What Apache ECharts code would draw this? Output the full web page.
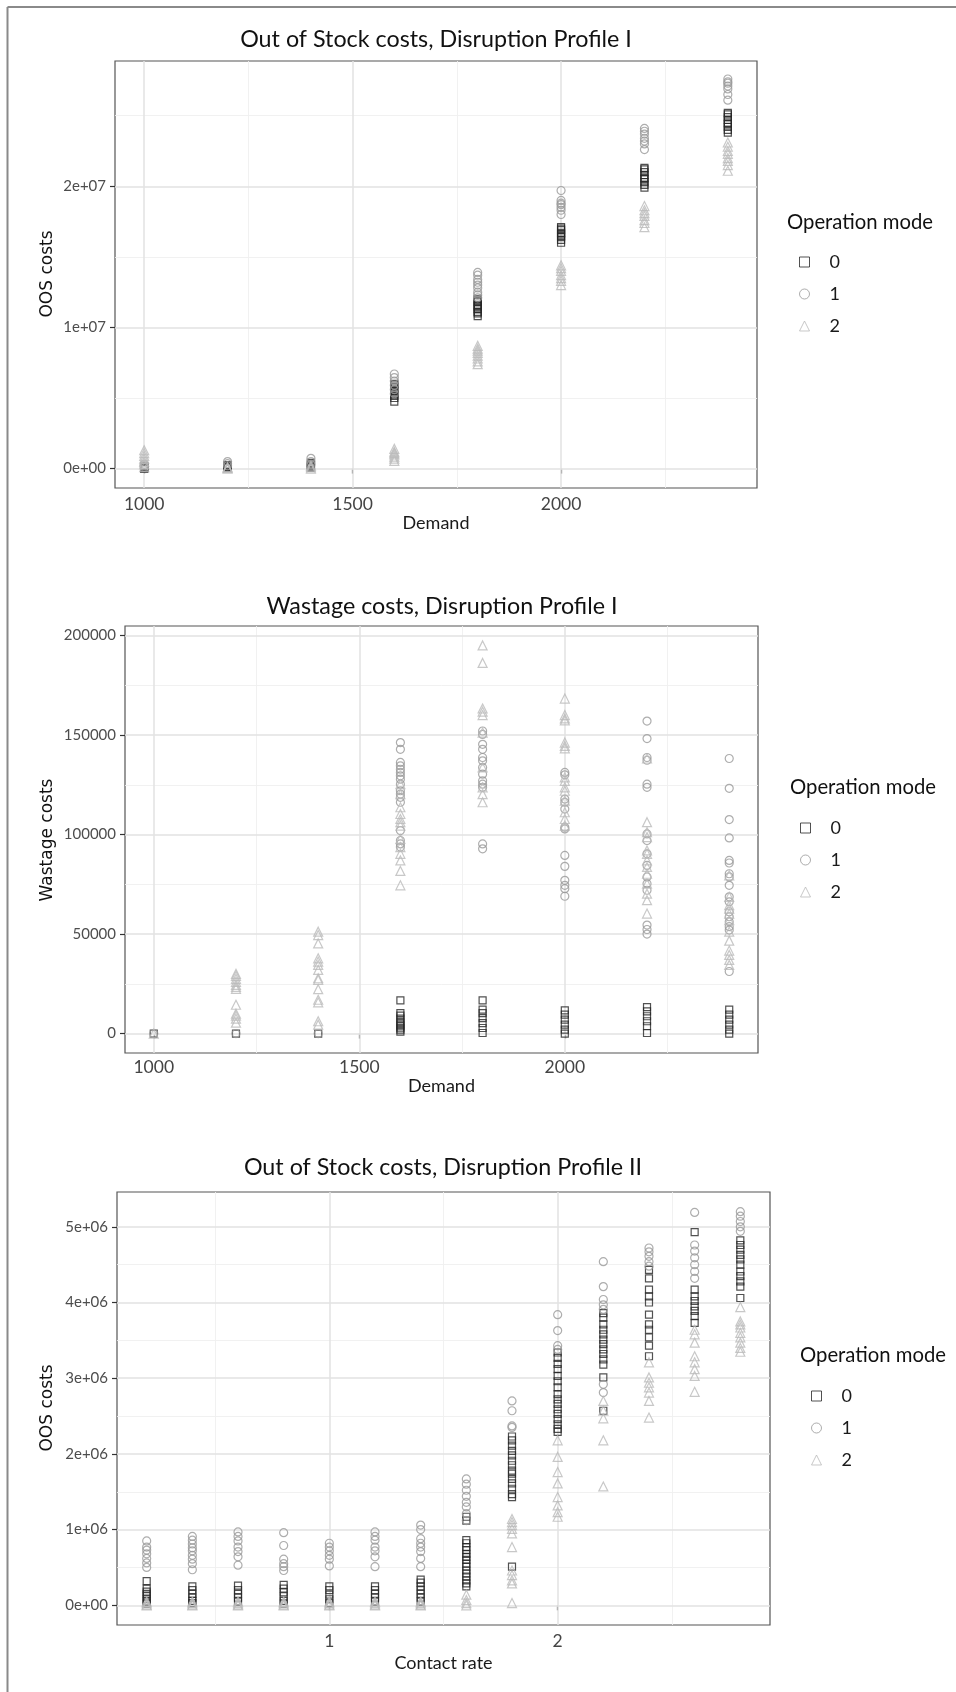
<!DOCTYPE html>
<html>
<head>
<meta charset="utf-8">
<script src="https://cdn.jsdelivr.net/npm/echarts@6/dist/echarts.min.js"></script>
<style>
  html, body { margin: 0; padding: 0; background: #fff; }
  #chart { width: 956px; height: 1692px; }
</style>
</head>
<body>
<div id="chart"></div>
<script>
// ---------- Categories ----------
const demand = [1000, 1200, 1400, 1600, 1800, 2000, 2200, 2400];
const contactRate = [0.2, 0.4, 0.6, 0.8, 1.0, 1.2, 1.4, 1.6, 1.8, 2.0, 2.2, 2.4, 2.6, 2.8];
const modeNames = ['0', '1', '2'];

// ---------- Out of Stock costs, Disruption Profile I (one list per demand level) ----------
const oosP1Mode0 = [
  [0, 2e4, 4e4, 6e4, 8e4, 1.2e5, 1.8e5],
  [5e4, 1.0e5, 1.5e5, 2.0e5, 2.5e5],
  [5e4, 1.0e5, 2.0e5, 3.0e5, 4.0e5],
  [6.0e6, 5.9e6, 5.75e6, 5.6e6, 5.5e6, 5.4e6, 5.3e6, 5.15e6, 5.0e6, 4.75e6],
  [1.2e7, 1.19e7, 1.18e7, 1.16e7, 1.15e7, 1.14e7, 1.13e7, 1.11e7, 1.1e7, 1.08e7],
  [1.71e7, 1.7e7, 1.69e7, 1.67e7, 1.66e7, 1.65e7, 1.64e7, 1.62e7, 1.6e7],
  [2.13e7, 2.12e7, 2.1e7, 2.08e7, 2.06e7, 2.05e7, 2.03e7, 2.01e7, 1.99e7],
  [2.52e7, 2.51e7, 2.49e7, 2.47e7, 2.45e7, 2.44e7, 2.42e7, 2.4e7, 2.38e7]
];
const oosP1Mode1 = [
  [1.0e5, 2.0e5, 3.0e5],
  [2.0e5, 3.5e5, 5.0e5],
  [3.0e5, 5.0e5, 7.3e5],
  [6.7e6, 6.45e6, 6.2e6, 5.9e6, 5.6e6, 5.3e6],
  [1.39e7, 1.37e7, 1.34e7, 1.32e7, 1.3e7, 1.28e7, 1.25e7, 1.23e7, 1.21e7],
  [1.97e7, 1.9e7, 1.88e7, 1.87e7, 1.85e7, 1.83e7, 1.8e7],
  [2.41e7, 2.39e7, 2.37e7, 2.34e7, 2.32e7, 2.3e7, 2.26e7],
  [2.76e7, 2.74e7, 2.73e7, 2.71e7, 2.69e7, 2.65e7, 2.61e7]
];
const oosP1Mode2 = [
  [1.3e6, 1.1e6, 9e5, 7e5, 5e5, 3e5, 1e5],
  [0, 5e4, 1e5],
  [0, 1e5, 2e5],
  [1.4e6, 1.2e6, 1.1e6, 1.0e6, 8.5e5, 7e5, 5.5e5],
  [8.7e6, 8.5e6, 8.35e6, 8.2e6, 8.0e6, 7.8e6, 7.6e6, 7.4e6],
  [1.44e7, 1.42e7, 1.4e7, 1.37e7, 1.35e7, 1.33e7, 1.3e7],
  [1.86e7, 1.83e7, 1.81e7, 1.79e7, 1.76e7, 1.74e7, 1.71e7],
  [2.31e7, 2.28e7, 2.25e7, 2.23e7, 2.2e7, 2.18e7, 2.15e7, 2.11e7]
];

// ---------- Wastage costs, Disruption Profile I ----------
const wasteMode0 = [
  [0], [0], [0],
  [16700, 10300, 9000, 7500, 6000, 5000, 4000, 3000, 2000, 1000],
  [16700, 12000, 10300, 7800, 5300, 2800, 300],
  [11700, 9500, 7000, 4500, 2000, 0],
  [13300, 11200, 8700, 6200, 3700, 300],
  [12000, 9500, 7000, 4500, 2000, 0]
];
const wasteMode1 = [
  [0], [0], [0],
  [146200, 142800, 136200, 134500, 132800, 131200, 129500, 127800, 125300, 122000, 120300, 118700, 116200, 102000, 97000, 95300, 93700],
  [152000, 150300, 145300, 142800, 138700, 137000, 133700, 130300, 127000, 125300, 123700, 95300, 92800],
  [131200, 130000, 117800, 116200, 112800, 103700, 102800, 89500, 84000, 77000, 74500, 72800, 69000],
  [157000, 148200, 138700, 137300, 125300, 123700, 100300, 97000, 90300, 84500, 78700, 75300, 72000, 54500, 52300, 50000],
  [138200, 123200, 107500, 98300, 87000, 85700, 80300, 78700, 74500, 68700, 66200, 61200, 58700, 56200, 53700, 52000, 31200]
];
const wasteMode2 = [
  [0],
  [30000, 29000, 27500, 26000, 24500, 23500, 22500, 14500, 10000, 9000, 7500, 5500],
  [51200, 49500, 45300, 37800, 36200, 34500, 32000, 27800, 27000, 22300, 17000, 15700, 6200, 4500],
  [125300, 120300, 113700, 110300, 107800, 106200, 104500, 97800, 93700, 90300, 87000, 81700, 74500],
  [195000, 186200, 163300, 161700, 160000, 151200, 133700, 123700, 120300, 116200],
  [168300, 160000, 158300, 157300, 146200, 144500, 143300, 128700, 127000, 123700, 122000, 117000, 111200, 107800, 104500],
  [138200, 106200, 101200, 98700, 92000, 90300, 87000, 83700, 80300, 75300, 70300, 67000, 60300],
  [79500, 68700, 64500, 62800, 60300, 57000, 51200, 46700, 41700, 39500, 37000, 34500]
];

// ---------- Out of Stock costs, Disruption Profile II (one list per contact rate) ----------
const oosP2Mode0 = [
  [3.2e5, 2.2e5, 1.8e5, 1.5e5, 1.2e5, 8e4, 5e4, 2e4],
  [2.5e5, 2.0e5, 1.5e5, 1.0e5, 6e4, 3e4],
  [2.6e5, 2.0e5, 1.5e5, 1.0e5, 5e4],
  [2.7e5, 2.2e5, 1.7e5, 1.2e5, 6e4, 2e4],
  [2.5e5, 2.0e5, 1.4e5, 8e4, 3e4],
  [2.5e5, 2.0e5, 1.5e5, 1.0e5, 5e4],
  [3.4e5, 3.0e5, 2.5e5, 2.0e5, 1.5e5, 1.0e5, 5e4],
  [1.17e6, 1.12e6, 8.6e5, 8.2e5, 7.7e5, 7.3e5, 6.8e5, 6.4e5, 6.0e5, 5.5e5, 5.1e5, 4.6e5, 4.2e5, 3.8e5, 3.3e5, 2.9e5, 2.5e5],
  [2.23e6, 2.18e6, 2.11e6, 2.04e6, 1.98e6, 1.91e6, 1.85e6, 1.78e6, 1.74e6, 1.67e6, 1.61e6, 1.54e6, 1.47e6, 1.43e6, 5.1e5],
  [3.34e6, 3.27e6, 3.19e6, 3.12e6, 3.03e6, 2.96e6, 2.88e6, 2.79e6, 2.72e6, 2.66e6, 2.59e6, 2.53e6, 2.46e6, 2.39e6, 2.33e6, 2.29e6],
  [3.86e6, 3.8e6, 3.71e6, 3.64e6, 3.58e6, 3.51e6, 3.45e6, 3.38e6, 3.32e6, 3.25e6, 3.18e6, 3.01e6, 2.57e6],
  [4.43e6, 4.32e6, 4.17e6, 4.08e6, 4.0e6, 3.84e6, 3.71e6, 3.64e6, 3.54e6, 3.43e6, 3.29e6],
  [4.93e6, 4.17e6, 4.08e6, 4.02e6, 3.95e6, 3.89e6, 3.82e6, 3.73e6],
  [4.82e6, 4.76e6, 4.7e6, 4.63e6, 4.57e6, 4.5e6, 4.41e6, 4.35e6, 4.28e6, 4.21e6, 4.06e6]
];
const oosP2Mode1 = [
  [8.5e5, 7.7e5, 7.3e5, 6.8e5, 6.2e5, 5.6e5, 5.0e5],
  [9.1e5, 8.6e5, 8.1e5, 7.6e5, 7.2e5, 6.6e5, 6.1e5, 5.5e5, 4.7e5],
  [9.7e5, 9.1e5, 8.5e5, 7.7e5, 7.1e5, 6.4e5, 5.3e5],
  [9.6e5, 7.9e5, 6.1e5, 5.5e5, 5.1e5, 4.6e5],
  [8.2e5, 7.7e5, 7.2e5, 6.6e5, 6.1e5, 5.2e5],
  [9.7e5, 9.1e5, 8.6e5, 7.7e5, 7.2e5, 6.4e5, 5.1e5],
  [1.06e6, 1.0e6, 8.8e5, 8.2e5, 7.7e5, 7.1e5, 6.2e5, 5.1e5],
  [1.67e6, 1.6e6, 1.52e6, 1.44e6, 1.36e6, 1.3e6, 1.21e6, 1.12e6],
  [2.7e6, 2.57e6, 2.37e6, 2.35e6],
  [3.84e6, 3.63e6, 3.43e6, 3.38e6],
  [4.54e6, 4.21e6, 4.04e6, 3.97e6, 3.91e6, 2.92e6, 2.81e6],
  [4.72e6, 4.67e6, 4.61e6, 4.54e6, 4.48e6],
  [5.19e6, 4.76e6, 4.68e6, 4.59e6, 4.5e6, 4.41e6, 4.32e6],
  [5.2e6, 5.14e6, 5.07e6, 5.0e6, 4.94e6]
];
const oosP2Mode2 = [
  [0, 1e4, 3e4, 5e4],
  [0, 1e4, 3e4, 5e4],
  [0, 1e4, 3e4, 5e4],
  [0, 1e4, 3e4, 5e4],
  [0, 1e4, 3e4, 5e4],
  [0, 1e4, 3e4, 5e4],
  [0, 1e4, 3e4, 5e4],
  [1.4e5, 7e4, 3e4, 0],
  [1.14e6, 1.1e6, 1.06e6, 1.01e6, 9.5e5, 7.7e5, 4.6e5, 4.0e5, 3.3e5, 2.9e5, 3e4],
  [2.18e6, 1.96e6, 1.76e6, 1.61e6, 1.43e6, 1.32e6, 1.23e6, 1.17e6],
  [2.7e6, 2.57e6, 2.47e6, 2.18e6, 1.57e6],
  [3.21e6, 3.01e6, 2.94e6, 2.88e6, 2.81e6, 2.7e6, 2.48e6],
  [3.64e6, 3.58e6, 3.47e6, 3.29e6, 3.21e6, 3.12e6, 3.03e6, 2.82e6],
  [3.94e6, 3.75e6, 3.71e6, 3.67e6, 3.6e6, 3.54e6, 3.47e6, 3.4e6, 3.35e6]
];

// ---------- Ticks and grid lines ----------
const demandTicks = [1000, 1500, 2000];
const demandMinor = [1250, 1750, 2250];
const oosP1Ticks = [0, 1e7, 2e7];
const oosP1TickLabels = ['0e+00', '1e+07', '2e+07'];
const oosP1Minor = [5e6, 1.5e7, 2.5e7];
const wasteTicks = [0, 50000, 100000, 150000, 200000];
const wasteTickLabels = ['0', '50000', '100000', '150000', '200000'];
const wasteMinor = [25000, 75000, 125000, 175000];
const rateTicks = [1, 2];
const rateMinor = [0.5, 1.5, 2.5];
const oosP2Ticks = [0, 1e6, 2e6, 3e6, 4e6, 5e6];
const oosP2TickLabels = ['0e+00', '1e+06', '2e+06', '3e+06', '4e+06', '5e+06'];
const oosP2Minor = [5e5, 1.5e6, 2.5e6, 3.5e6, 4.5e6];

// ---------- Styling ----------
const modeColors = ['#262626', '#999999', '#bababa'];
const modeSymbols = ['rect', 'circle', 'triangle'];
const modeSizes = [7, 8, 9];
const TXT = 'Lato, "Open Sans", sans-serif';
const WIDE = '"DejaVu Sans", Verdana, sans-serif';

function toPoints(xs, groups) {
  const out = [];
  xs.forEach((x, i) => groups[i].forEach(v => out.push([x, v])));
  return out;
}

function gridLineSeries(gi, xMajor, xMinor, yMajor, yMinor) {
  const major = { color: '#e2e2e2', width: 1.5, type: 'solid' };
  const minor = { color: '#efefef', width: 0.9, type: 'solid' };
  const lines = [];
  xMinor.forEach(v => lines.push({ xAxis: v, lineStyle: minor }));
  yMinor.forEach(v => lines.push({ yAxis: v, lineStyle: minor }));
  xMajor.forEach(v => lines.push({ xAxis: v, lineStyle: major }));
  yMajor.forEach(v => lines.push({ yAxis: v, lineStyle: major }));
  return {
    type: 'scatter', xAxisIndex: gi, yAxisIndex: gi, data: [], silent: true,
    markLine: { silent: true, z: 1, symbol: ['none', 'none'], label: { show: false },
      animation: false, data: lines }
  };
}

function modeSeries(gi, xs, groupsByMode) {
  return groupsByMode.map((groups, m) => ({
    name: modeNames[m], type: 'scatter', xAxisIndex: gi, yAxisIndex: gi, z: 3,
    symbol: modeSymbols[m], symbolSize: modeSizes[m],
    itemStyle: { color: 'rgba(0,0,0,0)', borderColor: modeColors[m], borderWidth: 1.2 },
    emphasis: { disabled: true },
    data: toPoints(xs, groups)
  }));
}

function xAxisCfg(gi, min, max, ticks, name, nameGap, margin) {
  return {
    type: 'value', gridIndex: gi, min: min, max: max,
    name: name, nameLocation: 'middle', nameGap: nameGap,
    nameTextStyle: { fontFamily: TXT, fontSize: 18, color: '#1a1a1a' },
    axisLine: { show: false }, splitLine: { show: false },
    axisTick: { show: true, length: 5, customValues: ticks, lineStyle: { color: '#333', width: 1.2 } },
    axisLabel: { customValues: ticks, margin: margin, fontFamily: TXT, fontSize: 17.5, color: '#444',
      formatter: v => String(v) }
  };
}

function yAxisCfg(gi, min, max, ticks, labels) {
  return {
    type: 'value', gridIndex: gi, min: min, max: max,
    axisLine: { show: false }, splitLine: { show: false },
    axisTick: { show: true, length: 5, customValues: ticks, lineStyle: { color: '#333', width: 1.2 } },
    axisLabel: { customValues: ticks, margin: 9, fontFamily: TXT, fontSize: 15, color: '#4d4d4d',
      formatter: v => labels[ticks.indexOf(v)] }
  };
}

function legendCfg(left, top) {
  return {
    data: modeNames, orient: 'vertical', left: left, top: top, padding: 0,
    itemWidth: 10, itemHeight: 10, itemGap: 12, selectedMode: false,
    itemStyle: { borderWidth: 1 },
    textStyle: { fontFamily: TXT, fontSize: 18, lineHeight: 20, color: '#1a1a1a', padding: [0, 0, 0, 15] }
  };
}

function label(x, y, text, font, align, rotation) {
  return { type: 'text', x: x, y: y, rotation: rotation || 0, silent: true,
    style: { text: text, font: font, fill: '#111',
      textAlign: align, textVerticalAlign: 'middle' } };
}

const chart = echarts.init(document.getElementById('chart'), null, { renderer: 'canvas' });

const gridStyle = { show: true, backgroundColor: '#fff', borderColor: '#555', borderWidth: 1.2 };
const titleFont = '23.3px ' + TXT;
const legendTitleFont = '20.3px ' + TXT;
const yTitleFont = '17px ' + WIDE;

chart.setOption({
  animation: false,
  backgroundColor: '#fff',
  grid: [
    Object.assign({ left: 115, top: 61, width: 642, height: 427 }, gridStyle),
    Object.assign({ left: 125, top: 626, width: 633, height: 427 }, gridStyle),
    Object.assign({ left: 117, top: 1192, width: 653, height: 433 }, gridStyle)
  ],
  xAxis: [
    xAxisCfg(0, 930, 2470, demandTicks, 'Demand', 19, 7),
    xAxisCfg(1, 930, 2470, demandTicks, 'Demand', 15, 5),
    xAxisCfg(2, 0.07, 2.93, rateTicks, 'Contact rate', 29, 7)
  ],
  yAxis: [
    yAxisCfg(0, -1.375e6, 2.8875e7, oosP1Ticks, oosP1TickLabels),
    yAxisCfg(1, -9750, 204750, wasteTicks, wasteTickLabels),
    yAxisCfg(2, -2.6e5, 5.46e6, oosP2Ticks, oosP2TickLabels)
  ],
  legend: [
    legendCfg(799, 252),
    legendCfg(800, 818),
    legendCfg(811, 1386)
  ],
  graphic: [
    { type: 'line', silent: true, shape: { x1: 7.5, y1: 7, x2: 956, y2: 7 }, style: { stroke: '#8a8a8a', lineWidth: 2 } },
    { type: 'line', silent: true, shape: { x1: 7.5, y1: 7, x2: 7.5, y2: 1692 }, style: { stroke: '#8a8a8a', lineWidth: 2 } },
    label(436, 39, 'Out of Stock costs, Disruption Profile I', titleFont, 'center'),
    label(442, 606, 'Wastage costs, Disruption Profile I', titleFont, 'center'),
    label(443, 1167, 'Out of Stock costs, Disruption Profile II', titleFont, 'center'),
    label(787, 222, 'Operation mode', legendTitleFont, 'left'),
    label(790, 787, 'Operation mode', legendTitleFont, 'left'),
    label(800, 1355, 'Operation mode', legendTitleFont, 'left'),
    label(47.5, 274, 'OOS costs', yTitleFont, 'center', Math.PI / 2),
    label(47.5, 840, 'Wastage costs', yTitleFont, 'center', Math.PI / 2),
    label(47.5, 1408, 'OOS costs', yTitleFont, 'center', Math.PI / 2)
  ],
  series: [
    gridLineSeries(0, demandTicks, demandMinor, oosP1Ticks, oosP1Minor),
    ...modeSeries(0, demand, [oosP1Mode0, oosP1Mode1, oosP1Mode2]),
    gridLineSeries(1, demandTicks, demandMinor, wasteTicks, wasteMinor),
    ...modeSeries(1, demand, [wasteMode0, wasteMode1, wasteMode2]),
    gridLineSeries(2, rateTicks, rateMinor, oosP2Ticks, oosP2Minor),
    ...modeSeries(2, contactRate, [oosP2Mode0, oosP2Mode1, oosP2Mode2])
  ]
});
</script>
</body>
</html>
